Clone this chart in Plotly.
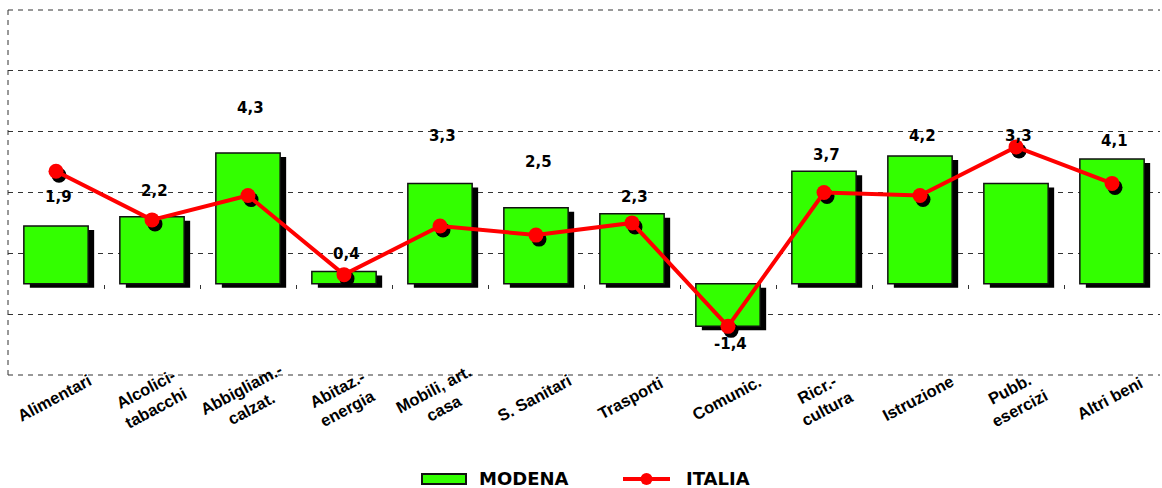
import plotly.graph_objects as go

# dati
categorie = ["Alimentari", "Alcolici-<br>tabacchi", "Abbigliam.-<br>calzat.", "Abitaz.-<br>energia",
             "Mobili, art.<br>casa", "S. Sanitari", "Trasporti", "Comunic.",
             "Ricr.-<br>cultura", "Istruzione", "Pubb.<br>esercizi", "Altri beni"]
modena = [1.9, 2.2, 4.3, 0.4, 3.3, 2.5, 2.3, -1.4, 3.7, 4.2, 3.3, 4.1]
italia = [3.7, 2.1, 2.9, 0.3, 1.9, 1.6, 2.0, -1.4, 3.0, 2.9, 4.5, 3.3]

# spostamento verticale (px) delle etichette dei valori
label_shift = [29, 26, 45, 18, 47, 46, 17, -18, 16, 20, 47, 18]

W, H = 1162, 488
ml, mr, mt, mb = 8, 2, 10, 113
ymin, ymax = -3, 9
plot_w = W - ml - mr
plot_h = H - mt - mb
px_x = plot_w / len(categorie)       # px per categoria
px_y = plot_h / (ymax - ymin)        # px per unita

x = list(range(len(categorie)))
bw = 0.67
sh_dx, sh_dy = 6 / px_x, 4 / px_y   # ombra barre
mk_dx, mk_dy = 3 / px_x, 4 / px_y   # ombra marker

fig = go.Figure()

# ombra barre
fig.add_trace(go.Bar(
    x=x, y=modena, base=[-sh_dy] * len(x), width=bw, offset=-bw / 2 + sh_dx,
    marker=dict(color="black", line=dict(width=0)), showlegend=False, hoverinfo="skip"
))
# barre MODENA
fig.add_trace(go.Bar(
    x=x, y=modena, width=bw, offset=-bw / 2, name="MODENA",
    marker=dict(color="#33FF00", line=dict(color="#111111", width=1.5))
))
# ombra marker
fig.add_trace(go.Scatter(
    x=[i + mk_dx for i in x], y=[v - mk_dy for v in italia], mode="markers",
    marker=dict(color="black", size=15), showlegend=False, hoverinfo="skip"
))
# linea ITALIA
fig.add_trace(go.Scatter(
    x=x, y=italia, mode="lines+markers", name="ITALIA",
    line=dict(color="#FF0000", width=4),
    marker=dict(color="#FF0000", size=15)
))

annotations = []
for i, v in enumerate(modena):
    annotations.append(dict(
        x=i, y=v, xref="x", yref="y", text=f"{v:.1f}".replace(".", ","),
        showarrow=False, yshift=label_shift[i], xshift=2,
        font=dict(family="DejaVu Sans", size=15, color="black", weight="bold")
    ))
for i, c in enumerate(categorie):
    annotations.append(dict(
        x=i, y=ymin, xref="x", yref="y", text=c, showarrow=False,
        textangle=-28, yshift=-23, xshift=-2,
        font=dict(family="Liberation Sans", size=16.5, color="black", weight="bold")
    ))

# legenda personalizzata
def px2paper_x(p):
    return (p - ml) / plot_w

def px2paper_y(p):
    return (H - mb - p) / plot_h

annotations += [
    dict(x=px2paper_x(478), y=px2paper_y(478), xref="paper", yref="paper", text="MODENA",
         xanchor="left", yanchor="middle", showarrow=False, borderpad=0,
         font=dict(family="DejaVu Sans", size=18, color="black", weight="bold")),
    dict(x=px2paper_x(685), y=px2paper_y(478), xref="paper", yref="paper", text="ITALIA",
         xanchor="left", yanchor="middle", showarrow=False, borderpad=0,
         font=dict(family="DejaVu Sans", size=18, color="black", weight="bold")),
]

dash_grid = dict(color="#333333", width=1, dash="5px,5px")
shapes = [
    # asse verticale e bordi tratteggiati
    dict(type="line", xref="paper", yref="paper", x0=0, x1=0, y0=0, y1=1, line=dash_grid),
    dict(type="line", xref="paper", yref="paper", x0=0, x1=1, y0=1, y1=1, line=dash_grid),
    dict(type="line", xref="paper", yref="paper", x0=0, x1=1, y0=0, y1=0, line=dash_grid),
    dict(type="rect", xref="paper", yref="paper",
         x0=px2paper_x(422), x1=px2paper_x(466), y0=px2paper_y(484), y1=px2paper_y(474),
         fillcolor="#33FF00", line=dict(color="#111111", width=2)),
    dict(type="line", xref="paper", yref="paper",
         x0=px2paper_x(623), x1=px2paper_x(670), y0=px2paper_y(479), y1=px2paper_y(479),
         line=dict(color="#FF0000", width=4)),
    dict(type="circle", xref="paper", yref="paper", xsizemode="pixel", ysizemode="pixel",
         xanchor=px2paper_x(646.5), yanchor=px2paper_y(479), x0=-6, x1=6, y0=-6, y1=6,
         fillcolor="#FF0000", line=dict(color="#FF0000", width=0)),
]

fig.update_layout(
    width=W, height=H,
    margin=dict(l=ml, r=mr, t=mt, b=mb),
    barmode="overlay",
    showlegend=False,
    plot_bgcolor="white", paper_bgcolor="white",
    annotations=annotations, shapes=shapes,
    xaxis=dict(range=[-0.5, len(categorie) - 0.5], anchor="free",
               position=(0 - ymin) / (ymax - ymin),
               showgrid=False, zeroline=False, showline=False,
               ticks="outside", ticklen=4, tickcolor="#333333",
               tickvals=[i + 0.5 for i in x[:-1]], showticklabels=False),
    yaxis=dict(range=[ymin, ymax], tick0=ymin, dtick=2,
               showgrid=True, gridcolor="#333333", gridwidth=1, griddash="5px,5px",
               zeroline=False, showline=False, showticklabels=False, ticks=""),
)

fig.write_html("out.html", config={"displayModeBar": False},
               post_script="document.body.style.margin='0';")
